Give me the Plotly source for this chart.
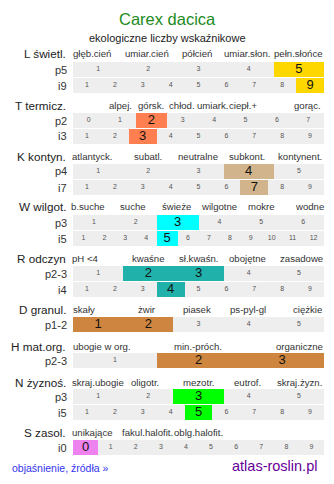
import plotly.graph_objects as go

W, H = 334, 484

# ---------------- data ----------------
title = "Carex dacica"
subtitle = "ekologiczne liczby wskaźnikowe"

section_names = ["L świetl.", "T termicz.", "K kontyn.", "W wilgot.", "R odczyn",
                 "D granul.", "H mat.org.", "N żyznoś.", "S zasol."]

section_headers = [
    ["głęb.cień", "umiar.cień", "półcień", "umiar.słon.", "pełn.słońce"],
    ["alpej.", "górsk.", "chłod.", "umiark.", "ciepł.+", "gorąc."],
    ["atlantyck.", "subatl.", "neutralne", "subkont.", "kontynent."],
    ["b.suche", "suche", "świeże", "wilgotne", "mokre", "wodne"],
    ["pH <4", "kwaśne", "sł.kwaśn.", "obojętne", "zasadowe"],
    ["skały", "żwir", "piasek", "ps-pyl-gl", "ciężkie"],
    ["ubogie w org.", "min.-próch.", "organiczne"],
    ["skraj.ubogie", "oligotr.", "mezotr.", "eutrof.", "skraj.żyzn."],
    ["unikające", "fakul.halofit.", "oblg.halofit."],
]

section_colors = ["#FFD700", "#FF7F50", "#D2B48C", "#00FFFF", "#20B2AA",
                  "#CD853F", "#CD853F", "#00FF00", "#EE82EE"]

# rows per section: (label, first scale value, last scale value, highlighted values)
row_labels = [["p5", "i9"], ["p2", "i3"], ["p4", "i7"], ["p3", "i5"], ["p2-3", "i4"],
              ["p1-2"], ["p2-3"], ["p3", "i5"], ["i0"]]
row_min = [[1, 1], [0, 1], [1, 1], [1, 1], [1, 1], [1], [1], [1, 1], [0]]
row_max = [[5, 9], [7, 9], [5, 9], [6, 12], [5, 9], [5], [3], [5, 9], [9]]
row_high = [[[5], [9]], [[2], [3]], [[4], [7]], [[3], [5]], [[2, 3], [4]],
            [[1, 2]], [[2, 3]], [[3], [5]], [[0]]]

footer_left = "objaśnienie, źródła »"
footer_right = "atlas-roslin.pl"

# ---------------- layout (pixel positions) ----------------
header_y = [54, 105, 156, 207, 258, 309, 346, 382, 432]
first_row_top = [62, 113, 164, 215, 266, 317, 353, 389, 440]
header_x = [
    [92, 147, 197, 247, 298],
    [120, 151, 182, 212, 243, 307],
    [93, 148, 198, 247, 300],
    [88, 133, 176, 219, 261, 309],
    [85, 148, 198, 247, 301],
    [84, 147, 197, 248, 307],
    [102, 198, 299],
    [98, 145, 198, 247, 299],
    [92, 147, 198],
]
X0, X1 = 73, 324
ROW_H = 15
ROW_STEP = 16
FONT = "Liberation Sans, Arial, sans-serif"


def px(x):
    return x / W


def py(y):
    return 1 - y / H


fig = go.Figure()
annotations = []
layout_axes = {}
k = 0

for s in range(len(section_names)):
    annotations.append(dict(x=px(68), y=py(header_y[s]), xref="paper", yref="paper",
                            text=section_names[s], showarrow=False, xanchor="right",
                            yanchor="middle", font=dict(size=11.7, color="#222", family=FONT)))
    for lab, hx in zip(section_headers[s], header_x[s]):
        annotations.append(dict(x=px(hx), y=py(header_y[s]), xref="paper", yref="paper",
                                text=lab, showarrow=False, xanchor="center", yanchor="middle",
                                font=dict(size=9.6, color="#333", family=FONT)))
    for r in range(len(row_labels[s])):
        k += 1
        top = first_row_top[s] + r * ROW_STEP
        lo, hi = row_min[s][r], row_max[s][r]
        vals = list(range(lo, hi + 1))
        high = row_high[s][r]
        colors = [section_colors[s] if v in high else "#EEEEEE" for v in vals]
        xa = "x" if k == 1 else f"x{k}"
        ya = "y" if k == 1 else f"y{k}"
        fig.add_trace(go.Bar(x=vals, y=[1] * len(vals), width=[1] * len(vals),
                             marker=dict(color=colors, line=dict(width=0)),
                             xaxis=xa, yaxis=ya, hoverinfo="skip", showlegend=False))
        fig.add_trace(go.Scatter(x=vals, y=[0.5] * len(vals), mode="text",
                                 text=[str(v) for v in vals],
                                 textfont=dict(size=[13 if v in high else 7 for v in vals],
                                               color=["#111" if v in high else "#555" for v in vals],
                                               family=FONT),
                                 xaxis=xa, yaxis=ya, hoverinfo="skip", showlegend=False))
        kx = "xaxis" if k == 1 else f"xaxis{k}"
        ky = "yaxis" if k == 1 else f"yaxis{k}"
        layout_axes[kx] = dict(domain=[px(X0), px(X1)], range=[lo - 0.5, hi + 0.5],
                               visible=False, fixedrange=True, anchor=ya)
        layout_axes[ky] = dict(domain=[py(top + ROW_H), py(top)], range=[0, 1],
                               visible=False, fixedrange=True, anchor=xa)
        annotations.append(dict(x=px(69), y=py(top + ROW_H / 2), xref="paper", yref="paper",
                                text=row_labels[s][r], showarrow=False, xanchor="right",
                                yanchor="middle", font=dict(size=11, color="#333", family=FONT)))

annotations.append(dict(x=0.5, y=py(19), xref="paper", yref="paper", text=title,
                        showarrow=False, xanchor="center", yanchor="middle",
                        font=dict(size=16.5, color="#228b22", family=FONT)))
annotations.append(dict(x=0.5, y=py(38), xref="paper", yref="paper", text=subtitle,
                        showarrow=False, xanchor="center", yanchor="middle",
                        font=dict(size=11, color="#222", family=FONT)))
annotations.append(dict(x=px(10), y=py(468), xref="paper", yref="paper", text=footer_left,
                        showarrow=False, xanchor="left", yanchor="middle",
                        font=dict(size=10.5, color="#3333ee", family=FONT)))
annotations.append(dict(x=px(319), y=py(466), xref="paper", yref="paper", text=footer_right,
                        showarrow=False, xanchor="right", yanchor="middle",
                        font=dict(size=14.5, color="#660099", family=FONT)))

fig.update_layout(width=W, height=H, margin=dict(l=0, r=0, t=0, b=0),
                  paper_bgcolor="white", plot_bgcolor="white", bargap=0,
                  annotations=annotations, **layout_axes)

fig.write_html("out.html", config={"displayModeBar": False})
